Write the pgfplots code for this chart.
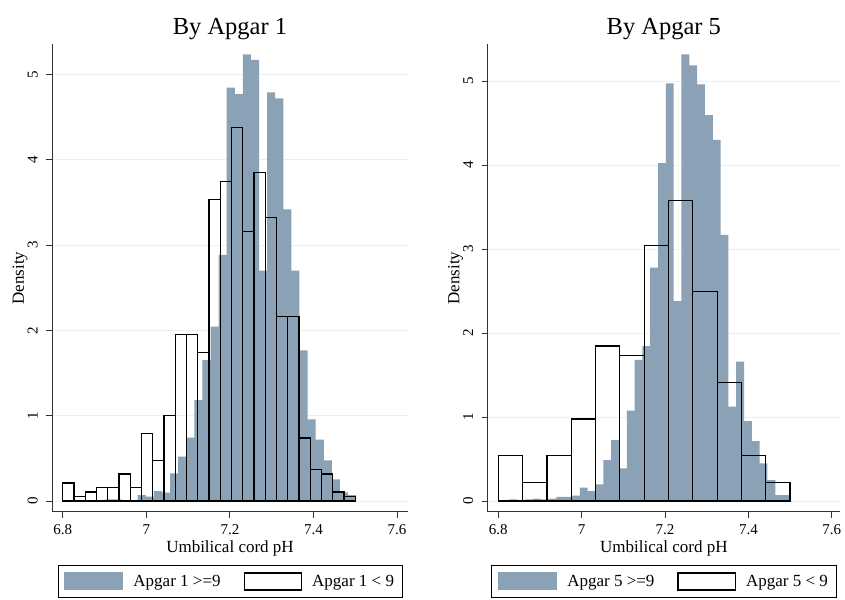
\documentclass[border=0pt]{standalone}
\usepackage{fontspec}
\setmainfont{Liberation Serif}
\usepackage{pgfplots}
\usepackage{pgfplotstable}
\pgfplotsset{compat=1.18}
\definecolor{barblue}{RGB}{139,161,182}
\definecolor{gridc}{RGB}{232,240,242}
\definecolor{axisc}{RGB}{50,50,50}

% Apgar 1 >= 9 (left edges, density)
\pgfplotstableread{
x y
6.9021 0.02
6.9215 0.02
6.9408 0.01
6.9602 0.00
6.9795 0.07
6.9989 0.05
7.0182 0.117
7.0376 0.098
7.0569 0.325
7.0763 0.52
7.0956 0.742
7.1150 1.184
7.1343 1.653
7.1537 2.043
7.1730 2.884
7.1924 4.845
7.2117 4.77
7.2311 5.236
7.2504 5.17
7.2698 2.70
7.2891 4.79
7.3085 4.72
7.3278 3.42
7.3472 2.70
7.3665 1.766
7.3859 0.957
7.4052 0.72
7.4246 0.477
7.4439 0.254
7.4633 0.10
7.4826 0.07
7.5020 0.07
}\aoneHigh

% Apgar 1 < 9
\pgfplotstableread{
x y
6.8000 0.2108
6.8269 0.0527
6.8538 0.1054
6.8808 0.158
6.9077 0.158
6.9346 0.316
6.9615 0.158
6.9885 0.79
7.0154 0.474
7.0423 1.001
7.0692 1.95
7.0962 1.95
7.1231 1.739
7.1500 3.531
7.1769 3.742
7.2038 4.374
7.2308 3.162
7.2577 3.847
7.2846 3.32
7.3115 2.161
7.3385 2.161
7.3654 0.738
7.3923 0.369
7.4192 0.316
7.4462 0.1054
7.4731 0.0527
7.5000 0.0527
}\aoneLow

% Apgar 5 >= 9
\pgfplotstableread{
x y
6.8268 0.02
6.8455 0.01
6.8643 0.02
6.8830 0.03
6.9018 0.02
6.9206 0.03
6.9393 0.05
6.9581 0.05
6.9768 0.065
6.9956 0.159
7.0144 0.119
7.0331 0.198
7.0519 0.488
7.0706 0.726
7.0894 0.389
7.1082 1.075
7.1269 1.679
7.1457 1.845
7.1644 2.778
7.1832 4.024
7.2020 4.972
7.2207 2.381
7.2395 5.317
7.2582 5.186
7.2770 4.96
7.2958 4.595
7.3145 4.298
7.3333 3.167
7.3520 1.123
7.3708 1.659
7.3896 0.952
7.4083 0.714
7.4271 0.448
7.4458 0.25
7.4646 0.071
7.4834 0.071
7.5021 0.071
}\afiveHigh

% Apgar 5 < 9
\pgfplotstableread{
x y
6.8000 0.5425
6.8583 0.217
6.9167 0.5425
6.9750 0.9765
7.0333 1.8445
7.0917 1.736
7.1500 3.038
7.2083 3.5805
7.2667 2.4955
7.3250 1.4105
7.3833 0.5425
7.4417 0.217
7.5000 0.217
}\afiveLow

\pgfplotsset{
  statastyle/.style={
    scale only axis,
    axis x line*=bottom, axis y line*=left,
    axis line style={axisc, line width=0.8pt, -},
    tick style={axisc, line width=0.8pt},
    tick align=outside,
    major tick length=6pt,
    xtick={6.8,7,7.2,7.4,7.6},
    xticklabels={6.8,7,7.2,7.4,7.6},
    ytick={0,1,2,3,4,5},
    yticklabels={0,1,2,3,4,5},
    ymajorgrids,
    grid style={gridc, line width=0.8pt},
    xticklabel style={font=\fontsize{15}{18}\selectfont, anchor=base, yshift=-16.6pt},
    yticklabel style={font=\fontsize{15}{18}\selectfont, xshift=-8.7pt, rotate=90, anchor=base},
    xlabel={Umbilical cord pH},
    ylabel={Density},
    every axis x label/.style={at={(axis description cs:0.5,0)}, anchor=base, yshift=-41pt, font=\fontsize{17}{20}\selectfont},
    every axis y label/.style={at={(axis description cs:0,0.5)}, xshift=-28.3pt, rotate=90, anchor=base, font=\fontsize{17}{20}\selectfont},
    every axis title/.style={at={(0.5,1)}, anchor=base, yshift=9.8pt, font=\fontsize{24.5}{28}\selectfont},
    legend columns=2,
    legend style={at={(0.5,0)}, anchor=north, yshift=-53.3pt, draw=black, line width=0.8pt,
      font=\fontsize{17}{20}\selectfont, inner xsep=6pt, inner ysep=7pt,
      /tikz/every odd column/.append style={column sep=8pt},
      /tikz/every even column/.append style={column sep=21pt}},
  },
  bluebar/.style={ybar interval, fill=barblue, draw=none,
    legend image code/.code={\fill[barblue] (0pt,-9pt) rectangle (59.5pt,9pt);}},
  whitebar/.style={ybar interval, fill=none, draw=black, line width=1.2pt,
    legend image code/.code={\draw[black, line width=1.1pt] (0.5pt,-8.5pt) rectangle (58pt,8.5pt);}},
}

\begin{document}
\begin{tikzpicture}
\path[use as bounding box] (0pt,0pt) rectangle (845pt,-599pt);

\begin{axis}[statastyle,
  at={(52.3pt,-511.7pt)}, anchor=south west,
  width=355.4pt, height=467.4pt,
  xmin=6.7751, xmax=7.6254, ymin=-0.1254, ymax=5.354,
  title={By Apgar 1}]
\addplot[bluebar] table[x=x, y=y] {\aoneHigh};
\addlegendentry{Apgar 1 >=9}
\addplot[whitebar] table[x=x, y=y] {\aoneLow};
\addlegendentry{Apgar 1 < 9}
\end{axis}

\begin{axis}[statastyle,
  at={(487.7pt,-511.7pt)}, anchor=south west,
  width=352.3pt, height=467.4pt,
  xmin=6.7746, xmax=7.6198, ymin=-0.127, ymax=5.437,
  title={By Apgar 5}]
\addplot[bluebar] table[x=x, y=y] {\afiveHigh};
\addlegendentry{Apgar 5 >=9}
\addplot[whitebar] table[x=x, y=y] {\afiveLow};
\addlegendentry{Apgar 5 < 9}
\end{axis}
\end{tikzpicture}
\end{document}
